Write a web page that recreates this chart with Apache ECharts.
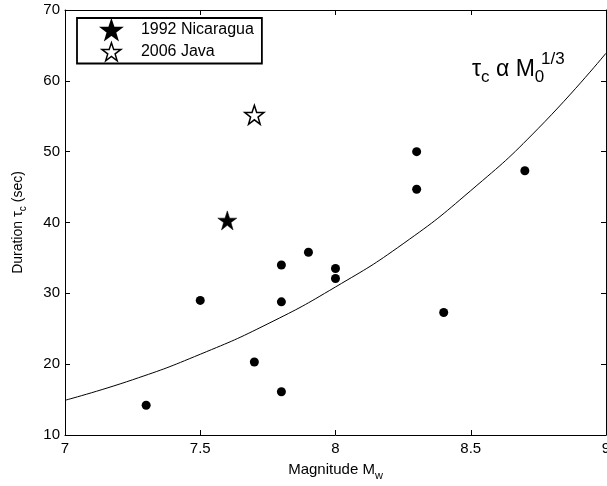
<!DOCTYPE html>
<html><head><meta charset="utf-8">
<script src="https://cdn.jsdelivr.net/npm/echarts@6/dist/echarts.min.js"></script>
<style>html,body{margin:0;padding:0;background:#fff}#c{width:607px;height:486px}</style>
</head><body><div id="c"></div>
<script>
// Data
const eventMw = [7.3, 7.5, 7.7, 7.8, 7.8, 7.8, 7.9, 8.0, 8.0, 8.3, 8.3, 8.4, 8.7];
const eventTau = [14.2, 29.0, 20.3, 34.0, 28.8, 16.1, 35.8, 33.5, 32.1, 50.0, 44.7, 27.3, 47.3];
const nicaragua = [7.6, 40.3];
const java = [7.7, 55.2];
const curveMw = [7.0, 7.25, 7.5, 7.75, 8.0, 8.25, 8.5, 8.75, 9.0];
const curveTau = [14.9, 17.8, 21.4, 25.7, 30.9, 37.0, 44.5, 53.3, 63.9];
const xTicks = [7, 7.5, 8, 8.5, 9];
const yTicks = [10, 20, 30, 40, 50, 60, 70];

const starPath = 'path://M50,0 L61.8,35.1 L98.1,35.1 L68.8,56.7 L79.4,91.9 L50,70 L20.6,91.9 L31.2,56.7 L1.9,35.1 L38.2,35.1 Z';
const FONT = 'Liberation Sans, Arial, Helvetica, sans-serif';

const chart = echarts.init(document.getElementById('c'), null, {renderer: 'canvas'});
const axisCommon = {
  axisLine: {show: true, onZero: false, lineStyle: {color: '#000', width: 1}},
  axisTick: {show: true, inside: true, length: 5, lineStyle: {color: '#000'}},
  splitLine: {show: false}
};
chart.setOption({
  animation: false,
  backgroundColor: '#fff',
  grid: {left: 65, right: 1, top: 10, bottom: 51, containLabel: false, outerBoundsMode: 'none'},
  xAxis: [
    Object.assign({type: 'value', min: 7, max: 9, interval: 0.5, position: 'bottom',
      axisLabel: {color: '#000', fontSize: 15, fontFamily: FONT, margin: 6,
        formatter: v => xTicks.includes(v) ? String(v) : ''},
      name: 'Magnitude M{sub|w}', nameLocation: 'middle', nameGap: 23,
      nameTextStyle: {color: '#000', fontSize: 15, fontFamily: FONT,
        rich: {sub: {fontSize: 11, fontFamily: FONT, color: '#000', padding: [12, 0, 0, 0]}}}
    }, axisCommon),
    Object.assign({type: 'value', min: 7, max: 9, interval: 0.5, position: 'top',
      axisLabel: {show: false}}, axisCommon)
  ],
  yAxis: [
    Object.assign({type: 'value', min: 10, max: 70, interval: 10, position: 'left',
      axisLabel: {color: '#000', fontSize: 15, fontFamily: FONT, margin: 5,
        formatter: v => yTicks.includes(v) ? String(v) : ''},
      name: 'Duration {g|τ}{sub|c} (sec)', nameLocation: 'middle', nameGap: 37, nameRotate: 90,
      nameTextStyle: {color: '#000', fontSize: 14, fontFamily: FONT,
        rich: {g: {fontSize: 15, fontFamily: FONT, color: '#000'},
               sub: {fontSize: 10, fontFamily: FONT, color: '#000', padding: [10, 0, 0, 0]}}}
    }, axisCommon),
    Object.assign({type: 'value', min: 10, max: 70, interval: 10, position: 'right',
      axisLabel: {show: false}}, axisCommon)
  ],
  legend: {
    left: 77, top: 18, orient: 'vertical', itemGap: 2,
    padding: [2, 8, 2, 24], itemWidth: 19, itemHeight: 18,
    borderColor: '#000', borderWidth: 1.8, borderRadius: 0, backgroundColor: '#fff',
    textStyle: {color: '#000', fontSize: 16, fontFamily: FONT, padding: [0, 0, 0, 15]},
    data: [
      {name: '1992 Nicaragua', icon: starPath, itemStyle: {color: '#000', borderColor: '#000', opacity: 1}},
      {name: '2006 Java', icon: starPath, itemStyle: {color: '#fff', borderColor: '#000', borderWidth: 1.5, opacity: 1}}
    ]
  },
  series: [
    {type: 'line', data: curveMw.map((x, i) => [x, curveTau[i]]), smooth: true, showSymbol: false,
      symbol: 'none', lineStyle: {color: '#000', width: 1, opacity: 1}, silent: true, z: 1},
    {type: 'scatter', data: eventMw.map((x, i) => [x, eventTau[i]]), symbol: 'circle', symbolSize: 9,
      itemStyle: {color: '#000', opacity: 1}, z: 3},
    {type: 'scatter', name: '1992 Nicaragua', data: [nicaragua], symbol: starPath, symbolSize: 19,
      itemStyle: {color: '#000', borderColor: '#000', borderWidth: 0.5, opacity: 1}, z: 4},
    {type: 'scatter', name: '2006 Java', data: [java], symbol: starPath, symbolSize: 19,
      itemStyle: {color: '#fff', borderColor: '#000', borderWidth: 1.5, opacity: 1}, z: 4}
  ],
  graphic: [
    {type: 'text', left: 472, top: 58, style: {
      text: '{t|τ}{s|c}{t| α M}{s|0}',
      rich: {
        t: {fontSize: 23, fontFamily: FONT, fill: '#000'},
        s: {fontSize: 17, fontFamily: FONT, fill: '#000', padding: [16, 0, 0, 0]}
      }}},
    {type: 'text', left: 541, top: 51, style: {text: '1/3', fontSize: 17, fontFamily: FONT, fill: '#000'}}
  ]
});
</script></body></html>
